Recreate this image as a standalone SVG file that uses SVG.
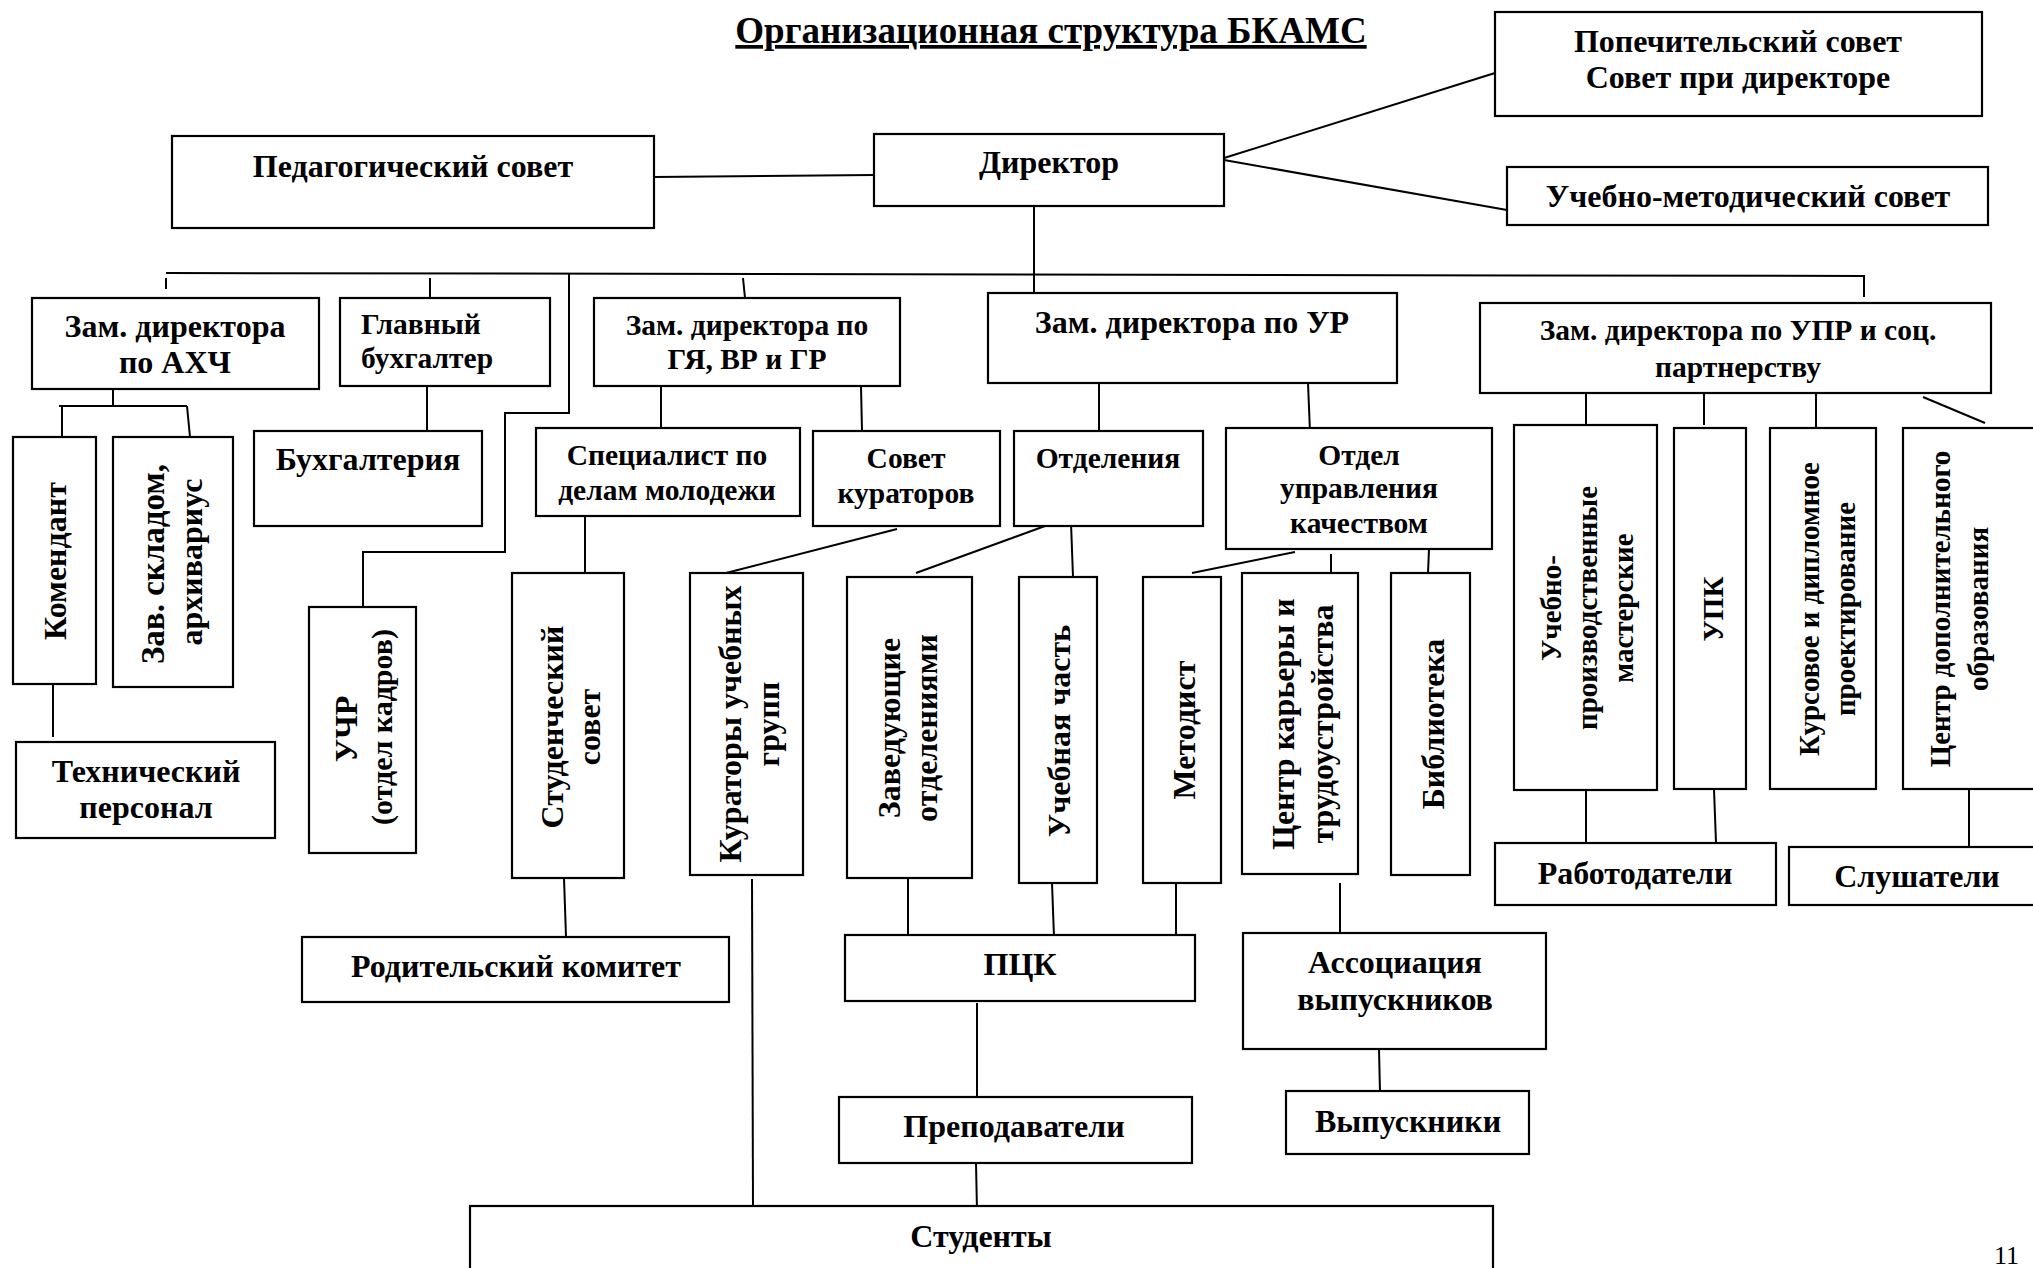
<svg xmlns="http://www.w3.org/2000/svg" width="2033" height="1268" viewBox="0 0 2033 1268">
<style>
.b{fill:#fff;stroke:#000;stroke-width:2.2}
.l{stroke:#000;stroke-width:2;fill:none}
.t{font-family:"Liberation Serif","Times New Roman",serif;font-weight:bold;font-size:32px;text-anchor:middle;fill:#000}
.v{font-size:32px}
.w{font-size:29px}
.m{font-size:29.5px}
.s{text-anchor:start}
.ti{font-size:37px;text-decoration:underline}
</style>
<rect width="2033" height="1268" fill="#fff"/>
<g id="title"><text class="t ti" x="1051" y="43">Организационная структура БКАМС</text></g>
<g id="connectors">
<line class="l" x1="654" y1="177" x2="874" y2="175"/>
<line class="l" x1="1224" y1="158" x2="1495" y2="73"/>
<line class="l" x1="1224" y1="160" x2="1507" y2="210"/>
<line class="l" x1="1034" y1="206" x2="1034" y2="293"/>
<polyline class="l" points="166,273 1864,276 1864,297"/>
<line class="l" x1="166" y1="278" x2="166" y2="289"/>
<line class="l" x1="430" y1="278" x2="430" y2="298"/>
<line class="l" x1="743" y1="278" x2="745" y2="298"/>
<polyline class="l" points="569,274 569,413 505,413 505,552 363,552 363,606"/>
<line class="l" x1="113" y1="389" x2="113" y2="406"/>
<line class="l" x1="59" y1="406" x2="187" y2="406"/>
<line class="l" x1="62" y1="406" x2="62" y2="440"/>
<line class="l" x1="187" y1="406" x2="190" y2="437"/>
<line class="l" x1="53" y1="680" x2="53" y2="737"/>
<line class="l" x1="427" y1="386" x2="427" y2="431"/>
<line class="l" x1="661" y1="386" x2="661" y2="428"/>
<line class="l" x1="861" y1="386" x2="862" y2="431"/>
<line class="l" x1="585" y1="516" x2="585" y2="573"/>
<line class="l" x1="1099" y1="383" x2="1099" y2="431"/>
<line class="l" x1="1308" y1="383" x2="1310" y2="432"/>
<line class="l" x1="897" y1="529" x2="726" y2="573"/>
<line class="l" x1="1045" y1="526" x2="916" y2="573"/>
<line class="l" x1="1071" y1="523" x2="1073" y2="577"/>
<line class="l" x1="1295" y1="552" x2="1192" y2="573"/>
<line class="l" x1="1331" y1="554" x2="1331" y2="579"/>
<line class="l" x1="1429" y1="549" x2="1428" y2="573"/>
<line class="l" x1="1586" y1="393" x2="1586" y2="426"/>
<line class="l" x1="1704" y1="393" x2="1704" y2="425"/>
<line class="l" x1="1816" y1="393" x2="1816" y2="430"/>
<line class="l" x1="1923" y1="397" x2="1985" y2="423"/>
<line class="l" x1="564" y1="878" x2="566" y2="937"/>
<line class="l" x1="752" y1="879" x2="753" y2="1208"/>
<line class="l" x1="908" y1="878" x2="908" y2="935"/>
<line class="l" x1="1052" y1="883" x2="1054" y2="937"/>
<line class="l" x1="1176" y1="883" x2="1176" y2="937"/>
<line class="l" x1="1340" y1="883" x2="1340" y2="932"/>
<line class="l" x1="977" y1="1003" x2="977" y2="1097"/>
<line class="l" x1="1379" y1="1049" x2="1380" y2="1093"/>
<line class="l" x1="976" y1="1163" x2="977" y2="1211"/>
<line class="l" x1="1586" y1="790" x2="1586" y2="847"/>
<line class="l" x1="1714" y1="789" x2="1716" y2="843"/>
<line class="l" x1="1969" y1="789" x2="1969" y2="848"/>
</g>
<g id="ped"><rect class="b" x="172" y="136" width="482" height="92"/><text class="t" x="413" y="177">Педагогический совет</text></g>
<g id="dir"><rect class="b" x="874" y="134" width="350" height="72"/><text class="t" x="1049" y="173">Директор</text></g>
<g id="pop"><rect class="b" x="1495" y="12" width="487" height="104"/><text class="t" x="1738" y="52">Попечительский совет</text><text class="t" x="1738" y="88">Совет при директоре</text></g>
<g id="ums"><rect class="b" x="1507" y="167" width="481" height="58"/><text class="t" x="1748" y="207">Учебно-методический совет</text></g>
<g id="akh"><rect class="b" x="32" y="298" width="287" height="91"/><text class="t" x="175" y="337">Зам. директора</text><text class="t" x="175" y="373">по АХЧ</text></g>
<g id="gb"><rect class="b" x="340" y="298" width="210" height="88"/><text class="t s m" x="361" y="334">Главный</text><text class="t s m" x="361" y="368">бухгалтер</text></g>
<g id="gya"><rect class="b" x="594" y="298" width="306" height="88"/><text class="t m" x="747" y="335">Зам. директора по</text><text class="t m" x="747" y="369">ГЯ, ВР и ГР</text></g>
<g id="ur"><rect class="b" x="988" y="293" width="409" height="90"/><text class="t" x="1192" y="333">Зам. директора по УР</text></g>
<g id="upr"><rect class="b" x="1480" y="303" width="511" height="90"/><text class="t m" x="1738" y="340">Зам. директора по УПР и соц.</text><text class="t m" x="1738" y="377">партнерству</text></g>
<g id="kom"><rect class="b" x="13" y="437" width="83" height="247"/><text class="t v" transform="translate(0,561) rotate(-90)" x="0" y="66">Комендант</text></g>
<g id="zav"><rect class="b" x="113" y="437" width="120" height="250"/><text class="t v" transform="translate(0,564) rotate(-90)" x="0" y="164" style="font-size:33px">Зав. складом,</text><text class="t v" transform="translate(0,562) rotate(-90)" x="0" y="202">архивариус</text></g>
<g id="tech"><rect class="b" x="16" y="742" width="259" height="96"/><text class="t" x="146" y="782">Технический</text><text class="t" x="146" y="818">персонал</text></g>
<g id="buh"><rect class="b" x="254" y="431" width="228" height="95"/><text class="t" x="368" y="470">Бухгалтерия</text></g>
<g id="uchr"><rect class="b" x="309" y="607" width="107" height="246"/><text class="t v" transform="translate(0,729) rotate(-90)" x="0" y="357">УЧР</text><text class="t v" transform="translate(0,727) rotate(-90)" x="0" y="392" style="font-size:30px">(отдел кадров)</text></g>
<g id="spec"><rect class="b" x="536" y="428" width="264" height="88"/><text class="t m" x="667" y="465">Специалист по</text><text class="t m" x="667" y="500">делам молодежи</text></g>
<g id="sk"><rect class="b" x="813" y="431" width="187" height="95"/><text class="t m" x="906" y="468">Совет</text><text class="t m" x="906" y="503">кураторов</text></g>
<g id="otd"><rect class="b" x="1014" y="431" width="189" height="95"/><text class="t m" x="1108" y="468">Отделения</text></g>
<g id="ouk"><rect class="b" x="1226" y="428" width="266" height="121"/><text class="t m" x="1359" y="465">Отдел</text><text class="t m" x="1359" y="498">управления</text><text class="t m" x="1359" y="533">качеством</text></g>
<g id="studsov"><rect class="b" x="512" y="573" width="112" height="305"/><text class="t v" transform="translate(0,727) rotate(-90)" x="0" y="563">Студенческий</text><text class="t v" transform="translate(0,727) rotate(-90)" x="0" y="600">совет</text></g>
<g id="kur"><rect class="b" x="690" y="573" width="113" height="302"/><text class="t v" transform="translate(0,724) rotate(-90)" x="0" y="741">Кураторы учебных</text><text class="t v" transform="translate(0,724) rotate(-90)" x="0" y="779">групп</text></g>
<g id="zavotd"><rect class="b" x="847" y="577" width="125" height="301"/><text class="t v" transform="translate(0,728) rotate(-90)" x="0" y="900">Заведующие</text><text class="t v" transform="translate(0,728) rotate(-90)" x="0" y="937">отделениями</text></g>
<g id="uch"><rect class="b" x="1019" y="577" width="78" height="306"/><text class="t v" transform="translate(0,731) rotate(-90)" x="0" y="1070">Учебная часть</text></g>
<g id="met"><rect class="b" x="1143" y="577" width="78" height="306"/><text class="t v" transform="translate(0,730) rotate(-90)" x="0" y="1195">Методист</text></g>
<g id="ck"><rect class="b" x="1242" y="573" width="116" height="301"/><text class="t v" transform="translate(0,724) rotate(-90)" x="0" y="1294">Центр карьеры и</text><text class="t v" transform="translate(0,724) rotate(-90)" x="0" y="1333">трудоустройства</text></g>
<g id="bib"><rect class="b" x="1391" y="573" width="79" height="302"/><text class="t v" transform="translate(0,724) rotate(-90)" x="0" y="1444">Библиотека</text></g>
<g id="upm"><rect class="b" x="1514" y="425" width="143" height="365"/><text class="t w" transform="translate(0,608) rotate(-90)" x="0" y="1561">Учебно-</text><text class="t w" transform="translate(0,608) rotate(-90)" x="0" y="1597">производственные</text><text class="t w" transform="translate(0,608) rotate(-90)" x="0" y="1633">мастерские</text></g>
<g id="upk"><rect class="b" x="1674" y="428" width="72" height="361"/><text class="t w" transform="translate(0,609) rotate(-90)" x="0" y="1723">УПК</text></g>
<g id="kdp"><rect class="b" x="1770" y="428" width="106" height="361"/><text class="t w" transform="translate(0,609) rotate(-90)" x="0" y="1819">Курсовое и дипломное</text><text class="t w" transform="translate(0,609) rotate(-90)" x="0" y="1855">проектирование</text></g>
<g id="cdo"><rect class="b" x="1903" y="428" width="145" height="361"/><text class="t w" transform="translate(0,609) rotate(-90)" x="0" y="1950">Центр дополнительного</text><text class="t w" transform="translate(0,609) rotate(-90)" x="0" y="1988">образования</text></g>
<g id="rod"><rect class="b" x="302" y="937" width="427" height="65"/><text class="t" x="516" y="977">Родительский комитет</text></g>
<g id="pck"><rect class="b" x="845" y="935" width="350" height="66"/><text class="t" x="1020" y="975">ПЦК</text></g>
<g id="assoc"><rect class="b" x="1243" y="933" width="303" height="116"/><text class="t" x="1395" y="973">Ассоциация</text><text class="t" x="1395" y="1010">выпускников</text></g>
<g id="prep"><rect class="b" x="839" y="1097" width="353" height="66"/><text class="t" x="1014" y="1137">Преподаватели</text></g>
<g id="vyp"><rect class="b" x="1286" y="1091" width="243" height="63"/><text class="t" x="1408" y="1132">Выпускники</text></g>
<g id="rab"><rect class="b" x="1495" y="843" width="281" height="62"/><text class="t" x="1635" y="884">Работодатели</text></g>
<g id="slush"><rect class="b" x="1789" y="847" width="260" height="58"/><text class="t" x="1917" y="887">Слушатели</text></g>
<g id="students"><rect class="b" x="470" y="1206" width="1023" height="80"/><text class="t" x="981" y="1247">Студенты</text></g>
<g id="page"><text x="1994" y="1264" font-family="Liberation Serif, serif" font-size="26">11</text></g>
</svg>
